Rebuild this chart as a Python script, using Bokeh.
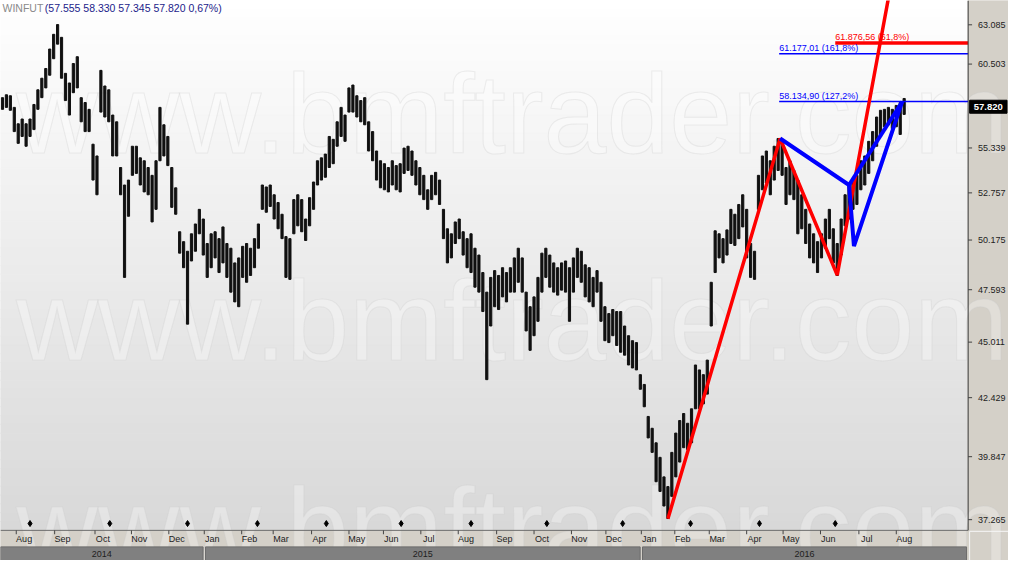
import math
from bokeh.plotting import figure
from bokeh.models import Range1d, LinearScale, Label
from bokeh.core.properties import value
from bokeh.embed import file_html
from bokeh.resources import INLINE

# ---------------- data ----------------
highs = [
    58.38, 58.56, 58.50, 57.78, 56.78, 57.07, 56.78, 57.07, 57.96, 58.87,
    59.60, 60.22, 61.48, 62.45, 63.10, 62.25, 59.91, 59.30, 60.54, 60.98,
    58.38, 58.08, 57.66, 55.56, 54.87, 60.10, 59.11, 58.87, 57.31, 56.90,
    54.20, 53.20, 53.48, 55.44, 55.44, 54.76, 54.59, 54.20, 53.75, 54.59,
    57.78, 56.72, 56.02, 54.20, 53.04, 50.62, 50.09, 49.58, 50.51, 51.04,
    51.84, 51.31, 49.99, 50.51, 50.62, 50.25, 50.88, 49.99, 49.74, 48.97,
    49.23, 49.84, 49.99, 49.74, 50.25, 51.04, 53.20, 53.09, 53.20, 52.65,
    52.22, 51.57, 50.36, 50.25, 52.38, 52.65, 52.38, 51.31, 52.49, 53.37,
    54.59, 54.76, 54.98, 56.02, 55.85, 56.90, 57.78, 57.31, 58.99, 59.17,
    58.50, 58.20, 58.38, 56.90, 56.31, 55.16, 54.59, 54.42, 54.20, 54.59,
    54.31, 54.42, 55.33, 55.44, 55.16, 54.59, 54.20, 53.75, 52.93, 53.75,
    53.92, 53.48, 51.84, 50.78, 50.51, 51.15, 51.31, 50.62, 50.25, 50.51,
    49.74, 49.38, 48.47, 47.47, 48.22, 48.57, 48.32, 48.72, 48.47, 48.72,
    49.23, 49.74, 49.23, 47.47, 46.74, 47.23, 48.22, 49.48, 49.74, 49.38,
    48.97, 48.72, 48.97, 49.07, 48.72, 49.23, 49.74, 49.58, 48.87, 48.72,
    48.22, 48.57, 47.97, 46.74, 46.40, 46.60, 46.50, 46.50, 45.79, 45.32,
    45.08, 44.99, 43.48, 43.03, 41.59, 41.07, 40.44, 39.82, 39.00, 38.60,
    40.03, 40.86, 41.41, 41.72, 41.29, 41.93, 43.93, 43.70, 43.48, 44.16,
    47.97, 50.67, 50.51, 50.25, 50.72, 51.84, 51.57, 52.11, 52.65, 51.84,
    49.99, 49.58, 53.75, 54.87, 55.16, 54.59, 55.44, 55.90, 55.73, 54.20,
    54.59, 54.03, 53.48, 52.65, 51.84, 51.04, 50.51, 50.09, 50.51, 51.31,
    51.84, 50.78, 49.99, 51.31, 52.65, 53.20, 53.48, 53.75, 54.59, 54.87,
    55.73, 56.31, 57.19, 57.60, 57.66, 57.78, 57.66, 57.90, 58.08, 58.33,
]
lows = [
    57.66, 57.78, 57.60, 56.31, 55.61, 56.02, 55.44, 56.02, 56.43, 57.66,
    58.38, 58.99, 59.79, 60.85, 61.80, 59.60, 58.20, 57.31, 58.69, 58.99,
    56.90, 56.31, 56.31, 53.48, 52.65, 57.49, 57.19, 56.90, 54.87, 54.87,
    52.65, 48.22, 51.46, 53.75, 53.86, 53.20, 52.81, 52.65, 51.15, 51.84,
    54.59, 54.87, 54.31, 51.95, 51.57, 49.48, 48.72, 45.88, 49.07, 49.58,
    50.51, 49.38, 48.22, 48.72, 49.23, 48.47, 48.97, 48.22, 47.47, 46.98,
    46.74, 48.22, 47.97, 48.32, 48.72, 49.74, 51.84, 51.68, 52.00, 51.31,
    50.78, 50.25, 48.22, 48.12, 50.51, 50.94, 50.62, 50.15, 50.94, 51.84,
    53.20, 53.48, 53.64, 54.20, 54.42, 55.44, 56.02, 55.73, 57.49, 57.49,
    57.19, 56.90, 56.72, 55.16, 54.59, 53.48, 53.04, 52.93, 52.81, 53.20,
    52.93, 52.81, 53.86, 54.03, 53.75, 53.20, 52.65, 52.38, 51.84, 52.38,
    52.65, 52.11, 50.25, 48.97, 49.23, 49.99, 50.25, 49.38, 48.72, 48.47,
    47.72, 47.47, 46.50, 43.25, 45.79, 46.74, 46.60, 47.23, 46.98, 47.47,
    47.47, 47.97, 47.47, 45.55, 44.62, 45.32, 46.02, 47.47, 48.22, 47.72,
    47.47, 47.32, 47.57, 47.47, 46.02, 47.47, 48.22, 47.97, 47.23, 46.98,
    46.74, 47.47, 46.02, 45.08, 44.99, 45.32, 44.85, 44.53, 44.39, 43.93,
    43.79, 43.70, 42.81, 42.02, 40.65, 40.03, 38.80, 38.40, 37.81, 37.31,
    38.20, 39.00, 39.62, 40.23, 40.15, 40.44, 41.93, 41.93, 42.15, 42.59,
    45.79, 48.47, 49.23, 48.97, 49.38, 49.99, 49.89, 50.25, 50.88, 49.23,
    48.22, 48.12, 51.84, 52.93, 53.31, 52.65, 53.48, 54.03, 53.75, 52.11,
    52.65, 52.38, 50.51, 50.78, 49.99, 49.23, 48.97, 48.47, 49.23, 49.74,
    50.25, 48.97, 48.32, 49.38, 50.94, 51.31, 51.84, 52.11, 52.93, 53.20,
    53.86, 54.59, 55.44, 56.02, 56.60, 56.72, 56.49, 56.60, 56.14, 57.35,
]
bar_index = list(range(len(highs)))

price_ticks = [37.265, 39.847, 42.429, 45.011, 47.593, 50.175, 52.757, 55.339, 60.503, 63.085]
price_tick_labels = ["37.265", "39.847", "42.429", "45.011", "47.593", "50.175", "52.757",
                     "55.339", "60.503", "63.085"]
last_close = 57.820
last_close_text = "57.820"

header_symbol = "WINFUT"
header_quote = "(57.555 58.330 57.345 57.820 0,67%)"

month_labels = ["Aug", "Sep", "Oct", "Nov", "Dec", "Jan", "Feb", "Mar", "Apr", "May", "Jun", "Jul",
                "Aug", "Sep", "Oct", "Nov", "Dec", "Jan", "Feb", "Mar", "Apr", "May", "Jun", "Jul", "Aug"]
month_pos = [3.5, 13.25, 23.5, 32.75, 42.25, 51.25, 60.75, 68.75, 78.5, 88, 96.75, 106.25,
             115.75, 125.5, 135, 144.5, 153.25, 162.25, 170.75, 179.5, 189, 198.25, 207.75, 217.5, 227]
year_labels = ["2014", "2015", "2016"]
event_pos = [7, 27.25, 47, 64.75, 82.25, 101.25, 119, 138.25, 157.5, 174.75, 192.25, 211.5]

red_x = [169, 197.5, 212, 227]
red_y = [37.30, 55.90, 48.34, 67.9]
blue_x = [197.5, 215, 216.25, 228.5]
blue_y = [55.90, 53.20, 49.85, 58.13]

fib_levels = [61.87656, 61.17701, 58.13490]
fib_texts = ["61.876,56 (61,8%)", "61.177,01 (161,8%)", "58.134,90 (127,2%)"]
fib_start = [211.5, 197.25, 197.25]
fib_colors = ["#ff0000", "#0000ff", "#0000ff"]

watermark = "www.bmftrader.com"

# ---------------- layout (reference pixel grid 1024x576) ----------------
W, H = 1008, 560
SX, SY = W / 1024.0, H / 576.0
BEIGE = "#d4d0c8"
FONT = "Liberation Sans"
PANEL_X = 983.0          # left edge of the price scale panel
BAND_Y = 545.0           # bottom of the price area

def idx_of(px):
    return (px - 2) / 4.0

x_end = idx_of(PANEL_X)
lnA, lnB = math.log(63.085), math.log(37.265)
ppl = (534 - 25) / (lnA - lnB)
ytop = math.exp(lnA + 25 / ppl)
ybot = math.exp(lnB - (576 - 534) / ppl)

p = figure(width=W, height=H, x_range=Range1d(idx_of(0), idx_of(1024)), y_range=Range1d(ybot, ytop),
           y_axis_type="log", y_axis_location=None, x_axis_location=None,
           toolbar_location=None, output_backend="svg",
           min_border=0, border_fill_color=BEIGE, background_fill_color="white",
           outline_line_color=None)
p.xgrid.visible = False
p.ygrid.visible = False
p.extra_x_ranges = {"rx": Range1d(0, 1024)}
p.extra_y_ranges = {"ry": Range1d(576, 0)}
p.extra_x_scales = {"rx": LinearScale()}
p.extra_y_scales = {"ry": LinearScale()}

# background gradient of the price area
n = 60
edges = [BAND_Y * k / n for k in range(n + 1)]
cols = []
for k in range(n):
    t = (k + 0.5) / n
    g = int(round(255 - (255 - 216) * t))
    cols.append("#%02x%02x%02x" % (g, g, g))
p.quad(left=0, right=PANEL_X, top=edges[:-1], bottom=edges[1:], fill_color=cols, line_color=cols,
       x_range_name="rx", y_range_name="ry", level="image")
# bottom band and right panel
p.quad(left=0, right=PANEL_X, top=BAND_Y, bottom=576, fill_color=BEIGE, line_color=BEIGE,
       x_range_name="rx", y_range_name="ry", level="image")
p.quad(left=PANEL_X, right=1024, top=0, bottom=576, fill_color=BEIGE, line_color=BEIGE,
       x_range_name="rx", y_range_name="ry", level="image")

# watermark
for base in [117, 330, 543]:
    p.add_layout(Label(x=16 * SX, y=H - base * SY, x_units="screen", y_units="screen",
                       text=watermark, text_font=FONT, text_font_size="113px",
                       text_baseline="alphabetic", text_color="white", text_alpha=0.3,
                       text_outline_color="#c9c9c9", level="underlay"))

# price bars
p.vbar(x=bar_index, top=highs, bottom=lows, width=0.55, color="#101010")

# fib levels
p.segment(x0=fib_start, x1=x_end, y0=fib_levels, y1=fib_levels, line_color=fib_colors,
          line_width=[3.5, 1.5, 1.5])
p.text(x=fib_start, y=fib_levels, text=fib_texts, y_offset=-1, text_baseline="bottom",
       text_font=value(FONT), text_font_size="9px", text_color=fib_colors)

# patterns
p.line(red_x, red_y, line_color="#ff0000", line_width=3.5)
p.line(blue_x, blue_y, line_color="#0000ff", line_width=4)
p.line([blue_x[1], blue_x[3]], [blue_y[1], blue_y[3]], line_color="#0000ff", line_width=4)

# frame edges
p.segment(x0=0, x1=PANEL_X, y0=BAND_Y, y1=BAND_Y, line_color="#6e6e6e", line_width=1,
          x_range_name="rx", y_range_name="ry")
p.segment(x0=PANEL_X, x1=PANEL_X, y0=0, y1=BAND_Y, line_color="#3a3a3a", line_width=1,
          x_range_name="rx", y_range_name="ry")
p.segment(x0=[PANEL_X + 1.5, PANEL_X + 1.5], x1=[PANEL_X + 1.5, 1024], y0=[BAND_Y + 1, BAND_Y + 1],
          y1=[576, BAND_Y + 1], line_color="#f6f6f6", line_width=1,
          x_range_name="rx", y_range_name="ry")

# price scale
p.segment(x0=PANEL_X, x1=PANEL_X + 4, y0=price_ticks, y1=price_ticks, line_color="#404040",
          x_range_name="rx")
p.text(x=PANEL_X + 10, y=price_ticks, text=price_tick_labels, text_align="left",
       text_baseline="middle", text_font=value(FONT), text_font_size="9px", text_color="#222222",
       x_range_name="rx")
p.rect(x=PANEL_X + 20.5, y=last_close, width=38, height=13, height_units="screen",
       fill_color="black", line_color="black", x_range_name="rx")
p.text(x=PANEL_X + 20.5, y=last_close, text=[last_close_text], text_align="center",
       text_baseline="middle", text_font=value(FONT), text_font_size="9.5px",
       text_font_style="bold", text_color="white", x_range_name="rx")

# event markers
p.scatter(x=event_pos, y=538, marker="diamond", size=6, color="black", y_range_name="ry")

# month ticks + labels
p.segment(x0=month_pos, x1=month_pos, y0=BAND_Y, y1=BAND_Y + 4, line_color="#444444",
          y_range_name="ry")
p.text(x=[m + 2 for m in month_pos], y=553.5, text=month_labels, text_align="center",
       text_baseline="middle", text_font=value(FONT), text_font_size="9px", text_color="#222222",
       y_range_name="ry")

# year bar
jan_pos = [month_pos[i] for i, m in enumerate(month_labels) if m == "Jan"]
bounds = [idx_of(0)] + jan_pos + [x_end - 0.1]
yl = [bounds[i] + (0.3 if i else 0) for i in range(3)]
yr = [bounds[i + 1] - 0.3 for i in range(3)]
p.quad(left=yl, right=yr, top=562, bottom=576, fill_color="#808080", line_color="#6a6a6a",
       y_range_name="ry")
p.text(x=[(a + b) / 2 for a, b in zip(yl, yr)], y=569, text=year_labels, text_align="center",
       text_baseline="middle", text_font=value(FONT), text_font_size="9px", text_color="#1e1e1e",
       y_range_name="ry")

# header
p.add_layout(Label(x=2, y=H - 8 * SY, x_units="screen", y_units="screen", text=header_symbol,
                   text_baseline="middle", text_font=FONT, text_font_size="10.5px",
                   text_color="#8a8a8a"))
p.add_layout(Label(x=45 * SX, y=H - 8 * SY, x_units="screen", y_units="screen", text=header_quote,
                   text_baseline="middle", text_font=FONT, text_font_size="10.5px",
                   text_color="#1c1c8a"))

open("out.html", "w").write(file_html(p, INLINE))
